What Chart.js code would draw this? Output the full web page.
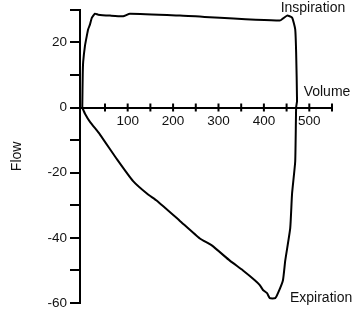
<!DOCTYPE html>
<html>
<head>
<meta charset="utf-8">
<script src="https://cdn.jsdelivr.net/npm/chart.js@4"></script>
<style>
  html, body { margin: 0; padding: 0; background: #fff; }
  #wrap { width: 360px; height: 320px; }
</style>
</head>
<body>
<div id="wrap"><canvas id="loopChart" width="360" height="320"></canvas></div>
<script>
// Flow-volume loop (volume, flow)
const volumeValues = [0, 1, 2, 6, 10, 13, 17, 21, 28, 35, 61, 90, 105, 215, 435, 451, 462, 469, 471, 473,
  471, 469, 462, 458, 447, 442, 431, 425, 413, 407, 398, 391, 380, 354, 325, 286, 259, 215, 165, 143, 112, 77, 39, 17, 6, 0];
const flowValues = [0, 10, 14, 19, 22, 24, 25.5, 27.5, 28.8, 28.5, 28.2, 28, 28.8, 28.2, 26.7, 28.2, 27.6, 24, 17, 2,
  0, -16.5, -26.5, -37, -47, -53, -57, -58.5, -58.5, -57, -56, -54.5, -53, -50, -47, -42.4, -40.2, -34.8, -28.7, -26.5, -22.6, -16, -8.3, -4.4, -1.9, 0];

const xTicks = [100, 200, 300, 400, 500];   // labelled volume ticks
const yTicks = [20, 0, -20, -40, -60];      // labelled flow ticks

// Text annotations, anchored to data coordinates
const noteTexts = ['Inspiration', 'Volume', 'Expiration'];
const noteVolumes = [508, 539, 526];
const noteFlows = [30.6, 4.8, -58.5];

const points = volumeValues.map((v, i) => ({ x: v, y: flowValues[i] }));

const fontFamily = '"Liberation Sans", Arial, Helvetica, sans-serif';

// crossing tick marks on the volume axis + annotations
const extrasPlugin = {
  id: 'extras',
  afterDraw(chart) {
    const ctx = chart.ctx;
    const xs = chart.scales.x;
    const ys = chart.scales.y;
    const y0 = ys.getPixelForValue(0);
    ctx.save();
    ctx.strokeStyle = '#000';
    ctx.lineWidth = 2;
    xs.ticks.forEach(t => {
      const px = xs.getPixelForValue(t.value);
      ctx.beginPath();
      ctx.moveTo(px, y0 - 4);
      ctx.lineTo(px, y0 + 4);
      ctx.stroke();
    });
    ctx.fillStyle = '#111';
    ctx.font = '14px ' + fontFamily;
    ctx.textAlign = 'center';
    ctx.textBaseline = 'middle';
    noteTexts.forEach((txt, i) => {
      ctx.fillText(txt, xs.getPixelForValue(noteVolumes[i]), ys.getPixelForValue(noteFlows[i]));
    });
    ctx.restore();
  }
};

const ctx = document.getElementById('loopChart').getContext('2d');
new Chart(ctx, {
  type: 'scatter',
  data: {
    datasets: [{
      data: points,
      showLine: true,
      borderColor: '#000',
      borderWidth: 2,
      pointRadius: 0,
      tension: 0.15,
      fill: false
    }]
  },
  options: {
    responsive: false,
    animation: false,
    layout: { padding: { top: 0, right: 28, bottom: 17, left: 0 } },
    plugins: {
      legend: { display: false },
      tooltip: { enabled: false }
    },
    scales: {
      x: {
        type: 'linear',
        position: { y: 0 },
        min: -5,
        max: 550,
        grid: { display: true, drawOnChartArea: false, drawTicks: false },
        border: { display: true, color: '#000', width: 2 },
        ticks: {
          stepSize: 50,
          padding: 6,
          color: '#111',
          maxRotation: 0,
          autoSkip: false,
          font: { family: fontFamily, size: 13.5 },
          callback: v => xTicks.includes(v) ? String(v) : ''
        }
      },
      y: {
        type: 'linear',
        position: 'left',
        min: -60,
        max: 30,
        afterFit: scale => { scale.width = 80; },
        grid: { display: true, drawOnChartArea: false, drawTicks: true, tickLength: 10, color: '#000', lineWidth: 2 },
        border: { display: true, color: '#000', width: 2 },
        title: {
          display: true,
          text: 'Flow',
          color: '#111',
          font: { family: fontFamily, size: 14 },
          padding: { top: 9, bottom: 0 }
        },
        ticks: {
          stepSize: 10,
          padding: 3,
          color: '#111',
          autoSkip: false,
          font: { family: fontFamily, size: 13.5, lineHeight: 1 },
          callback: v => yTicks.includes(v) ? String(v) : ''
        }
      }
    }
  },
  plugins: [extrasPlugin]
});
</script>
</body>
</html>
